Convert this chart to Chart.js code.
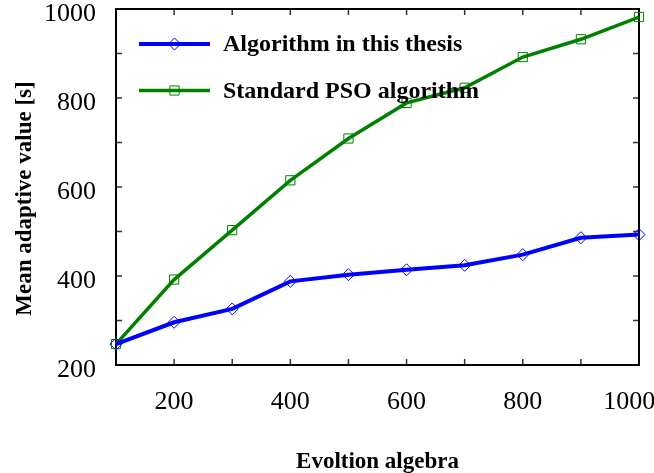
<!DOCTYPE html>
<html>
<head>
<meta charset="utf-8">
<script src="https://cdn.jsdelivr.net/npm/chart.js@4.4.0/dist/chart.umd.min.js"></script>
<style>
  body { margin: 0; background: #fff; }
  #wrap { width: 654px; height: 473px; }
</style>
</head>
<body>
<div id="wrap"><canvas id="fitness-chart"></canvas></div>
<script>
var generations = [100, 200, 300, 400, 500, 600, 700, 800, 900, 1000]
var thesisValues = [247, 296, 326, 388, 403, 414, 424, 448, 486, 493]
var psoValues = [247, 392, 503, 615, 709, 789, 823, 892, 932, 982]
var xTickLabels = [200, 400, 600, 800, 1000]
var yTickLabels = [200, 400, 600, 800, 1000]

function toPoints(values) {
  return generations.map(function (g, i) { return {x: g, y: values[i]} })
}

// box round the plot, short ticks pointing inwards on all four sides
var frameBox = {
  id: 'frameBox',
  beforeDatasetsDraw: function (chart) {
    var ctx = chart.ctx, a = chart.chartArea
    var xs = chart.scales.x, ys = chart.scales.y
    ctx.save()
    ctx.strokeStyle = '#333'
    ctx.lineWidth = 1.5
    ctx.beginPath()
    xs.ticks.forEach(function (t) {
      var px = xs.getPixelForValue(t.value)
      ctx.moveTo(px, a.bottom); ctx.lineTo(px, a.bottom - 6)
      ctx.moveTo(px, a.top); ctx.lineTo(px, a.top + 6)
    })
    ys.ticks.forEach(function (t) {
      var py = ys.getPixelForValue(t.value)
      ctx.moveTo(a.left, py); ctx.lineTo(a.left + 6, py)
      ctx.moveTo(a.right, py); ctx.lineTo(a.right - 6, py)
    })
    ctx.stroke()
    ctx.strokeStyle = '#000'
    ctx.lineWidth = 2
    ctx.strokeRect(a.left, a.top, a.width, a.height)
    ctx.restore()
  }
}

// legend inside the plot: line sample with the marker on it
var lineLegend = {
  id: 'lineLegend',
  afterDatasetsDraw: function (chart) {
    var ctx = chart.ctx, a = chart.chartArea
    chart.data.datasets.forEach(function (ds, i) {
      var y = a.top + 35 + i * 46.5
      var x0 = a.left + 23, x1 = a.left + 94
      ctx.save()
      ctx.strokeStyle = ds.borderColor
      ctx.lineWidth = ds.borderWidth
      ctx.beginPath()
      ctx.moveTo(x0, y); ctx.lineTo(x1, y)
      ctx.stroke()
      ctx.fillStyle = 'rgba(0,0,0,0)'
      ctx.strokeStyle = ds.pointBorderColor
      ctx.lineWidth = ds.pointBorderWidth
      Chart.helpers.drawPoint(ctx, {pointStyle: ds.pointStyle, radius: ds.pointRadius, borderWidth: ds.pointBorderWidth, rotation: 0}, (x0 + x1) / 2, y)
      ctx.fillStyle = '#000'
      ctx.font = 'bold 24px "Liberation Serif"'
      ctx.textBaseline = 'middle'
      ctx.textAlign = 'left'
      ctx.fillText(ds.label, a.left + 107, y + 1)
      ctx.restore()
    })
  }
}

var fitnessChart = new Chart(document.getElementById('fitness-chart'), {
  type: 'line',
  data: {
    datasets: [
      {
        label: 'Algorithm in this thesis',
        data: toPoints(thesisValues),
        borderColor: '#0000ff', borderWidth: 4,
        pointStyle: 'rectRot', pointRadius: 6, pointBorderWidth: 1,
        pointBorderColor: '#0000ff', pointBackgroundColor: 'rgba(0,0,0,0)',
        tension: 0, fill: false, clip: false
      }, {
        label: 'Standard PSO algorithm',
        data: toPoints(psoValues),
        borderColor: '#008000', borderWidth: 3.5,
        pointStyle: 'rect', pointRadius: 6.5, pointBorderWidth: 1,
        pointBorderColor: '#008000', pointBackgroundColor: 'rgba(0,0,0,0)',
        tension: 0, fill: false, clip: false
      }
    ]
  },
  options: {
    responsive: true, maintainAspectRatio: false, animation: false,
    layout: {padding: {left: 0, right: 15, top: 9, bottom: 0}},
    plugins: {legend: {display: false}, tooltip: {enabled: false}},
    scales: {
      x: {
        type: 'linear', min: 100, max: 1000,
        grid: {display: false}, border: {display: false},
        ticks: {
          stepSize: 100, autoSkip: false, maxRotation: 0, padding: 14,
          color: '#000', font: {family: 'Liberation Serif', size: 26},
          // last label sits a little left of its tick so it stays on the page
          callback: function (v) {
            if (xTickLabels.indexOf(v) < 0) return ''
            return v === 1000 ? v + '   ' : v
          }
        },
        title: {display: true, text: 'Evoltion algebra', color: '#000', padding: {top: 0, bottom: -3},
          font: {family: 'Liberation Serif', size: 23, weight: 'bold'}},
        afterFit: function (s) {
          s.height = 108
          s.paddingLeft = 0; s.paddingRight = 0
        }
      },
      y: {
        min: 200, max: 1000,
        grid: {display: false}, border: {display: false},
        ticks: {
          stepSize: 100, autoSkip: false, padding: 12, labelOffset: 5,
          color: '#000', font: {family: 'Liberation Serif', size: 26},
          callback: function (v) { return yTickLabels.indexOf(v) >= 0 ? v : '' }
        },
        title: {display: true, text: 'Mean adaptive value [s]    ', color: '#000', padding: {top: 11, bottom: 0},
          font: {family: 'Liberation Serif', size: 23, weight: 'bold'}},
        afterFit: function (s) {
          s.width = 116
          s.paddingTop = 0; s.paddingBottom = 0
        }
      }
    }
  },
  plugins: [frameBox, lineLegend]
});
</script>
</body>
</html>
